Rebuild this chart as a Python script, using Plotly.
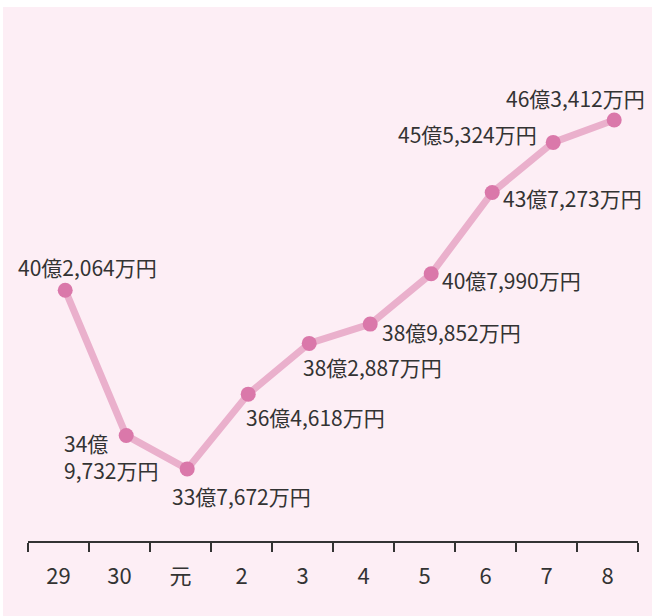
import plotly.graph_objects as go

categories = ["29", "30", "元", "2", "3", "4", "5", "6", "7", "8"]
values_man = [402064, 349732, 337672, 364618, 382887, 389852, 407990, 437273, 455324, 463412]
labels = ["40億2,064万円", "34億<br>9,732万円", "33億7,672万円", "36億4,618万円", "38億2,887万円",
          "38億9,852万円", "40億7,990万円", "43億7,273万円", "45億5,324万円", "46億3,412万円"]
label_dx = [22, -15, 54, 67, 63, 81, 80, 80, -86, -39]
label_dy = [23, -21, -27, -23, -24, -8, -6, -6, 8, 22]

FONT = "Noto Sans CJK JP"
TXT = "#333333"
BG = "#FDEEF5"

xs = list(range(len(categories)))
ys = [v / 10000 for v in values_man]

fig = go.Figure()
fig.add_trace(go.Scatter(
    x=xs, y=ys, mode="lines+markers",
    line=dict(color="#EAB0CC", width=7),
    marker=dict(color="#DA78AA", size=15),
    hoverinfo="skip", showlegend=False,
))

for x, y, t, dx, dy in zip(xs, ys, labels, label_dx, label_dy):
    fig.add_annotation(x=x, y=y, text=t, showarrow=False, xshift=dx, yshift=dy,
                       align="left", font=dict(family=FONT, size=21, color=TXT))

off = 0.61
fig.add_shape(type="rect", xref="paper", yref="paper", x0=-0.041, x1=1.03, y0=-0.15, y1=1.0,
              fillcolor=BG, line=dict(width=0), layer="below")

fig.update_layout(
    width=652, height=616,
    margin=dict(l=28, r=14, t=7, b=75),
    paper_bgcolor="white", plot_bgcolor="rgba(0,0,0,0)",
    font=dict(family=FONT, color=TXT),
    xaxis=dict(range=[-off, len(categories) - off], showgrid=False, zeroline=False,
               showline=True, linecolor=TXT, linewidth=1.5,
               tickmode="array", tickvals=[i - off + 0.5 for i in xs], ticktext=categories,
               ticks="", tickfont=dict(family=FONT, size=22, color=TXT), ticklabelstandoff=15,
               minor=dict(tickmode="array", tickvals=[k - off for k in range(len(categories) + 1)],
                          ticks="outside", ticklen=9, tickwidth=1.5, tickcolor=TXT, showgrid=False),
               fixedrange=True),
    yaxis=dict(range=[31.17, 50.41], visible=False, fixedrange=True),
)

fig.write_html("out.html", config={"displayModeBar": False},
               post_script="document.body.style.margin='0';document.body.style.overflow='hidden';")
